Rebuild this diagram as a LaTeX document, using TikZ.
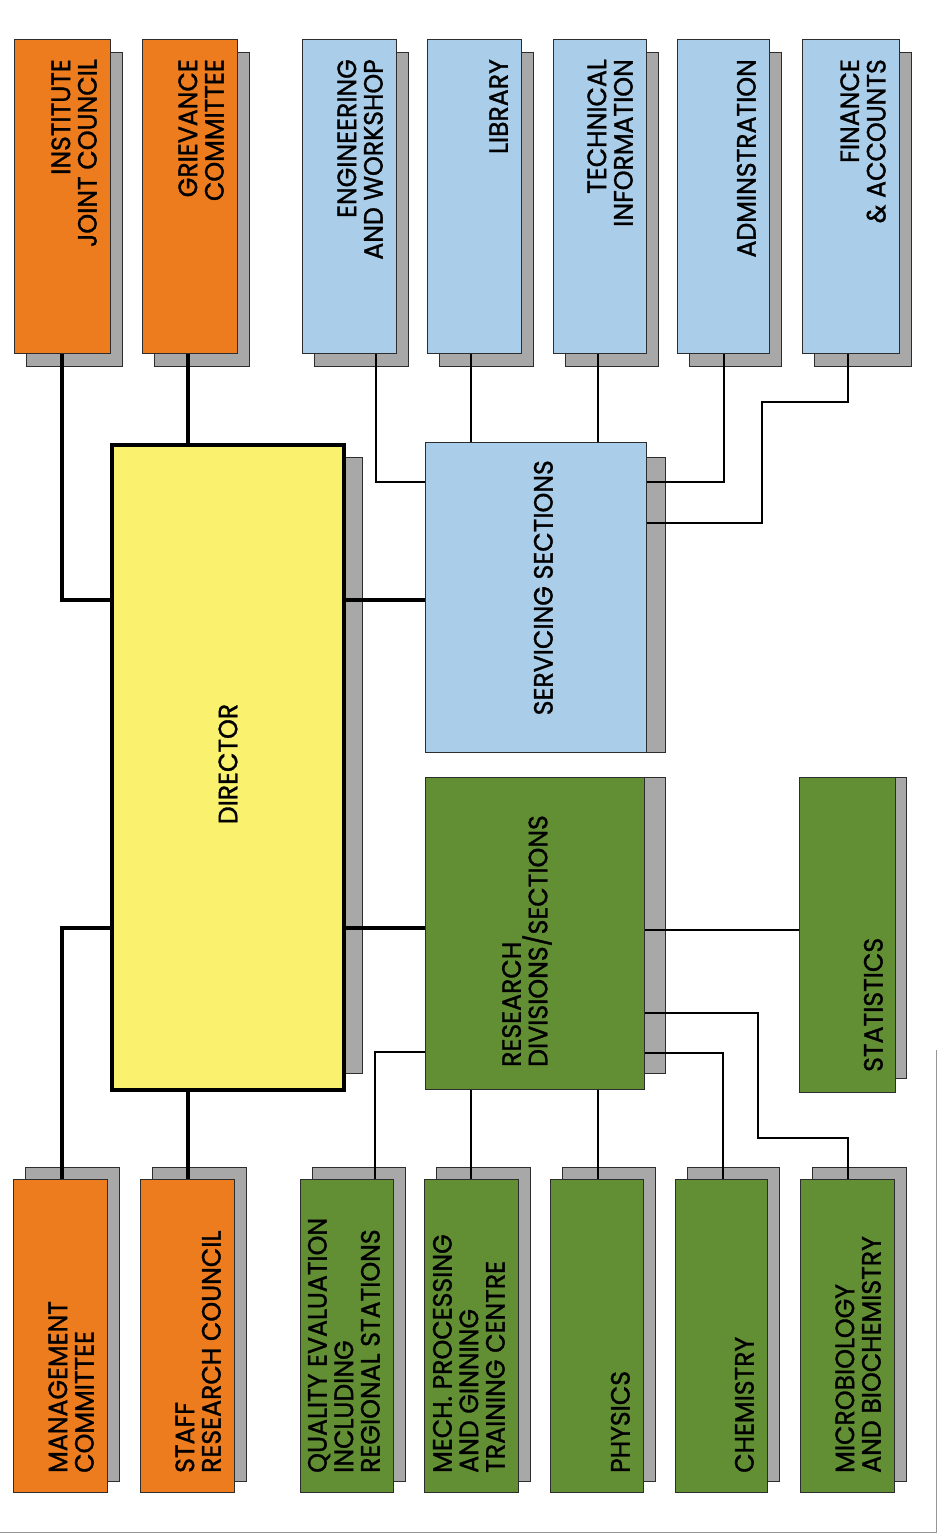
\documentclass[tikz,border=0pt]{standalone}
\usepackage{fontspec}
\setmainfont{Poppins}[FakeStretch=0.95,FakeBold=1.2]
\definecolor{orng}{RGB}{236,124,30}
\definecolor{lblue}{RGB}{170,206,234}
\definecolor{grn}{RGB}{98,142,52}
\definecolor{yel}{RGB}{250,242,110}
\definecolor{shd}{RGB}{168,168,168}
\definecolor{edgec}{RGB}{45,45,45}
\definecolor{framec}{RGB}{150,150,150}
\tikzset{
  box/.style={draw=edgec, line width=1pt, rectangle, inner sep=0pt},
  shadowbox/.style={fill=shd, draw=edgec, line width=0.8pt},
  txt/.style={rotate=90, inner sep=0pt, text=black, font=\fontsize{26.5}{26.5}\selectfont},
  thick line/.style={draw=black, line width=3.3pt},
  thin line/.style={draw=black, line width=1.8pt},
}
\begin{document}
\begin{tikzpicture}[x=1pt,y=-1pt]
\useasboundingbox (0,0) rectangle (938,1540);
\fill[white] (0,0) rectangle (938,1540);
% page frame
\draw[framec, line width=1pt] (0,1532) -- (936,1532) -- (936,1050);

% top row
\foreach \n/\x/\w/\c/\t in {
  ijc/14/96/orng/{INSTITUTE\\JOINT COUNCIL},
  gc/142/95/orng/{GRIEVANCE\\COMMITTEE},
  eng/302/94/lblue/{ENGINEERING\\AND WORKSHOP},
  lib/427/94/lblue/{LIBRARY},
  tech/553/93/lblue/{TECHNICAL\\INFORMATION},
  adm/677/92/lblue/{ADMINSTRATION},
  fin/802/97/lblue/{FINANCE\\\& ACCOUNTS}}{
  \draw[shadowbox] (\x+12,52) rectangle (\x+\w+12,366);
  \node[box, fill=\c, minimum width=\w, minimum height=314, anchor=north west] (\n) at (\x,39) {};
}
% bottom row
\foreach \n/\x/\w/\c/\t in {
  mc/13/94/orng/{MANAGEMENT\\COMMITTEE},
  src/140/94/orng/{STAFF\\RESEARCH COUNCIL},
  qe/300/93/grn/{QUALITY EVALUATION\\INCLUDING\\REGIONAL STATIONS},
  mech/424/94/grn/{MECH. PROCESSING\\AND GINNING\\TRAINING CENTRE},
  phy/550/93/grn/{PHYSICS},
  chem/675/92/grn/{CHEMISTRY},
  micro/800/94/grn/{MICROBIOLOGY\\AND BIOCHEMISTRY}}{
  \draw[shadowbox] (\x+12,1167) rectangle (\x+\w+12,1481);
  \node[box, fill=\c, minimum width=\w, minimum height=313, anchor=north west] (\n) at (\x,1179) {};
}

% central shadows
\draw[shadowbox] (330,457) rectangle (362,1073);
\draw[shadowbox] (636,457) rectangle (665,752);
\draw[shadowbox] (636,777) rectangle (665,1073);
\draw[shadowbox] (886,777) rectangle (906,1078);

% central boxes
\node[draw=black, line width=4pt, fill=yel, inner sep=0pt, minimum width=231.5, minimum height=645, anchor=north west] (dir) at (110,443) {};
\node[box, fill=lblue, minimum width=221, minimum height=310, anchor=north west] (serv) at (425,442) {};
\node[box, fill=grn, minimum width=219, minimum height=312, anchor=north west] (res) at (425,777) {};
\node[box, fill=grn, minimum width=96, minimum height=315, anchor=north west] (stat) at (799,777) {};

% connectors to director
\draw[thick line] (62,0 |- ijc.south) |- (dir.west |- 0,600);
\draw[thick line] (188,0 |- gc.south) -- (188,0 |- dir.north);
\draw[thick line] (dir.east |- 0,600) -- (serv.west |- 0,600);
\draw[thick line] (dir.west |- 0,928) -| (62,0 |- mc.north);
\draw[thick line] (188,0 |- dir.south) -- (188,0 |- src.north);
\draw[thick line] (dir.east |- 0,928) -- (res.west |- 0,928);

% servicing sections
\draw[thin line] (376,0 |- eng.south) |- (serv.west |- 0,482);
\draw[thin line] (471,0 |- lib.south) -- (471,0 |- serv.north);
\draw[thin line] (598,0 |- tech.south) -- (598,0 |- serv.north);
\draw[thin line] (724,0 |- adm.south) |- (serv.east |- 0,482);
\draw[thin line] (848,0 |- fin.south) |- (762,402) |- (serv.east |- 0,523);

% research divisions
\draw[thin line] (375,0 |- qe.north) |- (res.west |- 0,1052);
\draw[thin line] (471,0 |- res.south) -- (471,0 |- mech.north);
\draw[thin line] (598,0 |- res.south) -- (598,0 |- phy.north);
\draw[thin line] (723,0 |- chem.north) |- (res.east |- 0,1053);
\draw[thin line] (848,0 |- micro.north) |- (758,1138) |- (res.east |- 0,1013);
\draw[thin line] (res.east |- 0,930) -- (stat.west |- 0,930);

% texts
\foreach \n/\x/\w/\t in {
  ijc/14/96/{INSTITUTE\\JOINT COUNCIL},
  gc/142/95/{GRIEVANCE\\COMMITTEE},
  eng/302/94/{ENGINEERING\\AND WORKSHOP},
  lib/427/94/{LIBRARY},
  tech/553/93/{TECHNICAL\\INFORMATION},
  adm/677/92/{ADMINSTRATION},
  fin/802/97/{FINANCE\\\& ACCOUNTS}}{
  \node[txt, align=right, anchor=south east] (t\n) at (\x+\w-13,59) {\t};
}
\foreach \n/\x/\w/\t in {
  mc/13/94/{MANAGEMENT\\COMMITTEE},
  src/140/94/{STAFF\\RESEARCH COUNCIL},
  qe/300/93/{QUALITY EVALUATION\\INCLUDING\\REGIONAL STATIONS},
  mech/424/94/{MECH. PROCESSING\\AND GINNING\\TRAINING CENTRE},
  phy/550/93/{PHYSICS},
  chem/675/92/{CHEMISTRY},
  micro/800/94/{MICROBIOLOGY\\AND BIOCHEMISTRY}}{
  \node[txt, align=left, anchor=south west] (t\n) at (\x+\w-13,1473) {\t};
}
\node[txt] (tdir) at (228,764) {DIRECTOR};
\node[txt, anchor=south east] (tserv) at (553,460) {SERVICING SECTIONS};
\node[txt, align=left, anchor=south west] (tres) at (552,1067) {RESEARCH\\DIVISIONS/SECTIONS};
\node[txt, anchor=south west] (tstat) at (883,1072) {STATISTICS};
\end{tikzpicture}
\end{document}
